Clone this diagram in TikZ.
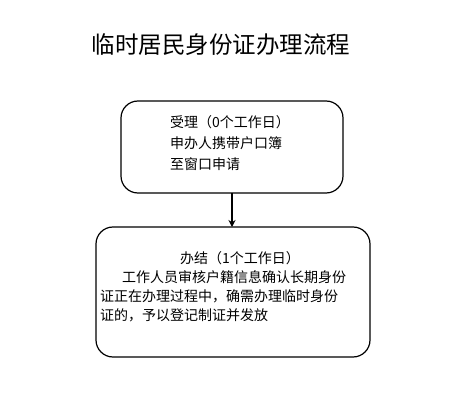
\documentclass[tikz,border=0pt]{standalone}
\usepackage{fontspec}
\newfontfamily\cjk{Noto Sans CJK SC}
\usetikzlibrary{arrows.meta}
\tikzset{
  stepbox/.style={draw=black, line width=1.2pt, rounded corners=17pt},
  txt/.style={anchor=base west, inner sep=0pt, font=\cjk\fontsize{14}{16}\selectfont},
  ttl/.style={anchor=base, inner sep=0pt, font=\cjk\fontsize{23.5}{27}\selectfont},
  conn/.style={draw=black, line width=1.6pt, -{Stealth[length=7pt,width=7pt]}}
}
\begin{document}
\begin{tikzpicture}[x=1pt,y=-1pt]
\useasboundingbox (0,0) rectangle (475,412);
\node[ttl] (title) at (221,54) {临时居民身份证办理流程};
\draw[stepbox] (121,101) rectangle (343,193);
\coordinate (b1s) at (232,193);
\draw[stepbox] (96,227) rectangle (370,357);
\coordinate (b2n) at (232,227);
\node[txt] (a1) at (170,128) {受理（0个工作日）};
\node[txt] (a2) at (170,149) {申办人携带户口簿};
\node[txt] (a3) at (170,170) {至窗口申请};
\node[txt] (c1) at (180,263) {办结（1个工作日）};
\node[txt] (c2) at (122,282.5) {工作人员审核户籍信息确认长期身份};
\node[txt] (c3) at (100,301.5) {证正在办理过程中，确需办理临时身份};
\node[txt] (c4) at (100,320.5) {证的，予以登记制证并发放};
\draw[conn] (b1s) -- (b2n);
\end{tikzpicture}
\end{document}
